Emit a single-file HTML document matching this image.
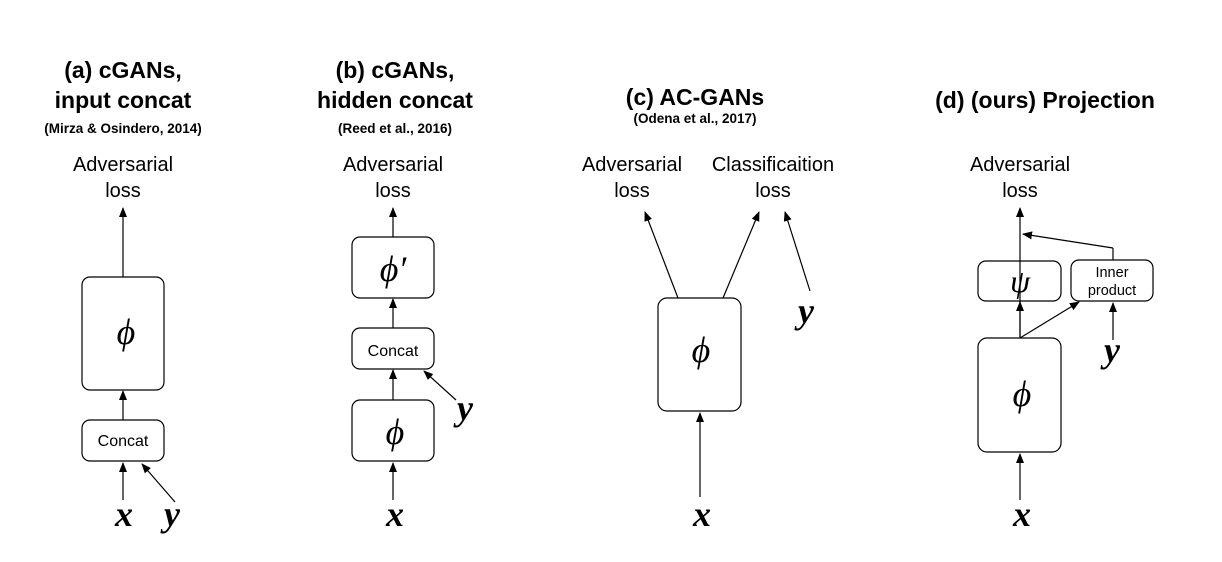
<!DOCTYPE html>
<html><head><meta charset="utf-8"><style>
html,body{margin:0;padding:0;background:#fff;}
svg{display:block;}
.t{font-family:"Liberation Sans",Arial,sans-serif;font-weight:bold;font-size:23px;text-anchor:middle;fill:#000;}
.s{font-family:"Liberation Sans",Arial,sans-serif;font-weight:bold;font-size:13.5px;text-anchor:middle;}
.l{font-family:"Liberation Sans",Arial,sans-serif;font-size:20px;text-anchor:middle;}
.c{font-family:"Liberation Sans",Arial,sans-serif;font-size:16px;text-anchor:middle;}
.ip{font-family:"Liberation Sans",Arial,sans-serif;font-size:14.5px;text-anchor:middle;}
.m{font-family:"Liberation Serif","DejaVu Serif",serif;font-style:italic;font-size:36px;text-anchor:middle;}
.v{font-family:"Liberation Serif","DejaVu Serif",serif;font-style:italic;font-weight:bold;font-size:36px;text-anchor:middle;}
rect{fill:#fff;stroke:#000;stroke-width:1.2;}
line{stroke:#000;stroke-width:1.2;}
</style></head><body>
<svg width="1222" height="562" viewBox="0 0 1222 562">
<defs><marker id="a" markerWidth="10" markerHeight="10" refX="9" refY="5" orient="auto" markerUnits="userSpaceOnUse"><path d="M0,1 L10,5 L0,9 z" fill="#000"/></marker></defs>

<!-- (a) -->
<text class="t" x="123" y="78">(a) cGANs,</text>
<text class="t" x="123" y="108">input concat</text>
<text class="s" x="123" y="133">(Mirza &amp; Osindero, 2014)</text>
<text class="l" x="123" y="171">Adversarial</text>
<text class="l" x="123" y="197">loss</text>
<line x1="123" y1="277" x2="123" y2="208" marker-end="url(#a)"/>
<rect x="82" y="277" width="82" height="113" rx="8"/>
<text class="m" x="126" y="344">ϕ</text>
<line x1="123" y1="420" x2="123" y2="391" marker-end="url(#a)"/>
<rect x="82" y="420" width="82" height="41" rx="8"/>
<text class="c" x="123" y="446">Concat</text>
<line x1="123" y1="500" x2="123" y2="463" marker-end="url(#a)"/>
<line x1="175" y1="502" x2="142" y2="464" marker-end="url(#a)"/>
<text class="v" x="124" y="526">x</text>
<text class="v" x="172" y="526">y</text>

<!-- (b) -->
<text class="t" x="395" y="78">(b) cGANs,</text>
<text class="t" x="395" y="108">hidden concat</text>
<text class="s" x="395" y="133">(Reed et al., 2016)</text>
<text class="l" x="393" y="171">Adversarial</text>
<text class="l" x="393" y="197">loss</text>
<line x1="393" y1="237" x2="393" y2="208" marker-end="url(#a)"/>
<rect x="352" y="237" width="82" height="61" rx="8"/>
<text class="m" x="393" y="281">ϕ′</text>
<line x1="393" y1="328" x2="393" y2="299" marker-end="url(#a)"/>
<rect x="352" y="328" width="82" height="41" rx="8"/>
<text class="c" x="393" y="356">Concat</text>
<line x1="393" y1="400" x2="393" y2="370" marker-end="url(#a)"/>
<line x1="456" y1="400" x2="424" y2="371" marker-end="url(#a)"/>
<text class="v" x="465" y="420">y</text>
<rect x="352" y="400" width="82" height="61" rx="8"/>
<text class="m" x="395" y="444">ϕ</text>
<line x1="393" y1="500" x2="393" y2="463" marker-end="url(#a)"/>
<text class="v" x="395" y="526">x</text>

<!-- (c) -->
<text class="t" x="695" y="105">(c) AC-GANs</text>
<text class="s" x="695" y="123">(Odena et al., 2017)</text>
<text class="l" x="632" y="171">Adversarial</text>
<text class="l" x="632" y="197">loss</text>
<text class="l" x="773" y="171">Classificaition</text>
<text class="l" x="773" y="197">loss</text>
<line x1="678" y1="298" x2="645" y2="212" marker-end="url(#a)"/>
<line x1="723" y1="298" x2="759" y2="212" marker-end="url(#a)"/>
<line x1="810" y1="291" x2="785" y2="212" marker-end="url(#a)"/>
<text class="v" x="806" y="323">y</text>
<rect x="658" y="298" width="83" height="113" rx="9"/>
<text class="m" x="701" y="362">ϕ</text>
<line x1="700" y1="497" x2="700" y2="413" marker-end="url(#a)"/>
<text class="v" x="702" y="526">x</text>

<!-- (d) -->
<text class="t" x="1045" y="108">(d) (ours) Projection</text>
<text class="l" x="1020" y="171">Adversarial</text>
<text class="l" x="1020" y="197">loss</text>
<rect x="978" y="261" width="83" height="40" rx="8"/>
<text class="m" x="1020" y="292" style="font-size:32px">ψ</text>
<line x1="1020" y1="338" x2="1020" y2="208" marker-end="url(#a)"/>
<rect x="1071" y="260" width="82" height="41" rx="8"/>
<text class="ip" x="1112" y="277">Inner</text>
<text class="ip" x="1112" y="295">product</text>
<line x1="1113" y1="260" x2="1113" y2="248"/>
<line x1="1113" y1="248" x2="1023" y2="234" marker-end="url(#a)"/>
<line x1="1020" y1="338" x2="1079" y2="302" marker-end="url(#a)"/>
<line x1="1020" y1="338" x2="1020" y2="302" marker-end="url(#a)"/>
<line x1="1113" y1="340" x2="1113" y2="303" marker-end="url(#a)"/>
<text class="v" x="1112" y="362">y</text>
<rect x="978" y="338" width="83" height="114" rx="9"/>
<text class="m" x="1022" y="406">ϕ</text>
<line x1="1020" y1="500" x2="1020" y2="454" marker-end="url(#a)"/>
<text class="v" x="1022" y="526">x</text>
</svg>
</body></html>
